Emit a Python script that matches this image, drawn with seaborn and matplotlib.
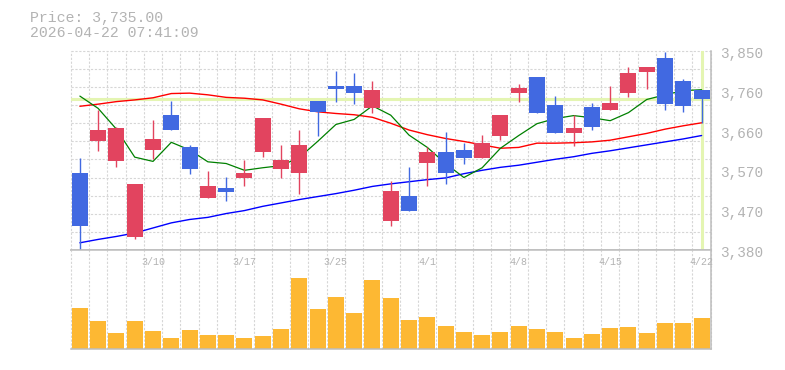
import matplotlib
matplotlib.use("Agg")
import matplotlib.pyplot as plt
import matplotlib.transforms as mtransforms
import numpy as np
import pandas as pd
import seaborn as sns

# daily candles, 2026-03-04 .. 2026-04-22
dates = ["3/4", "3/5", "3/6", "3/9", "3/10", "3/11", "3/12", "3/13", "3/16", "3/17",
         "3/18", "3/19", "3/23", "3/24", "3/25", "3/26", "3/27", "3/30", "3/31", "4/1",
         "4/2", "4/3", "4/6", "4/7", "4/8", "4/9", "4/10", "4/13", "4/14", "4/15",
         "4/16", "4/17", "4/20", "4/21", "4/22"]
opens = [3562, 3636, 3591, 3410, 3615, 3698, 3623, 3502, 3527, 3551,
         3610, 3570, 3561, 3731, 3767, 3767, 3716, 3449, 3508, 3586,
         3611, 3616, 3596, 3650, 3751, 3788, 3722, 3657, 3717, 3711,
         3751, 3800, 3832, 3778, 3757]
highs = [3597, 3710, 3670, 3536, 3687, 3731, 3627, 3567, 3553, 3593,
         3691, 3628, 3663, 3731, 3802, 3797, 3778, 3543, 3576, 3623,
         3658, 3633, 3651, 3698, 3771, 3788, 3743, 3698, 3727, 3767,
         3812, 3811, 3846, 3783, 3757]
lows = [3380, 3614, 3575, 3406, 3595, 3662, 3560, 3502, 3495, 3530,
        3600, 3551, 3511, 3650, 3729, 3725, 3702, 3436, 3471, 3530,
        3535, 3582, 3596, 3640, 3730, 3702, 3657, 3626, 3662, 3711,
        3741, 3760, 3710, 3706, 3679]
closes = [3436, 3663, 3668, 3536, 3642, 3662, 3570, 3532, 3516, 3562,
          3691, 3593, 3628, 3706, 3760, 3751, 3757, 3518, 3471, 3611,
          3561, 3596, 3633, 3698, 3762, 3702, 3657, 3668, 3671, 3727,
          3797, 3811, 3725, 3720, 3735]
ma5 = [3743, 3714, 3665, 3599, 3589, 3634, 3616, 3588, 3584, 3568,
       3574, 3579, 3598, 3636, 3676, 3688, 3720, 3698, 3651, 3622,
       3584, 3551, 3574, 3620, 3650, 3678, 3690, 3697, 3692, 3685,
       3704, 3735, 3746, 3756, 3758]
ma25 = [3719, 3724, 3730, 3734, 3739, 3749, 3750, 3746, 3740, 3738,
        3734, 3724, 3713, 3706, 3702, 3699, 3693, 3679, 3663, 3652,
        3643, 3636, 3628, 3620, 3622, 3632, 3632, 3633, 3635, 3639,
        3647, 3655, 3665, 3673, 3680]
ma75 = [3397, 3405, 3412, 3420, 3432, 3444, 3452, 3457, 3466, 3473,
        3483, 3491, 3499, 3506, 3513, 3521, 3530, 3536, 3541, 3546,
        3550, 3560, 3568, 3575, 3580, 3587, 3594, 3600, 3608, 3614,
        3621, 3628, 3635, 3642, 3650]
volume = [407, 277, 157, 277, 177, 107, 187, 137, 137, 107,
          127, 197, 707, 397, 517, 357, 687, 507, 287, 317,
          227, 167, 137, 167, 227, 197, 167, 107, 147, 207,
          217, 157, 257, 257, 307]
price_now = 3735.00
stamp = "2026-04-22 07:41:09"
ytick_labels = ["3,380", "3,470", "3,570", "3,660", "3,760", "3,850"]

UP, DOWN = "#e2445f", "#4169e1"
GRID, FRAME, TXT = "#d6d6d6", "#bdbdbd", "#b3b3b3"
LIME = "#e4f5b2"
MONO = "Liberation Mono"

sns.set_style("white")

df = pd.DataFrame({"date": dates, "open": opens, "high": highs, "low": lows,
                   "close": closes, "ma5": ma5, "ma25": ma25, "ma75": ma75,
                   "volume": volume})
df["i"] = range(len(df))
df["color"] = np.where(df["close"] >= df["open"], UP, DOWN)

fig = plt.figure(figsize=(7.85, 3.70), dpi=100)
ax = fig.add_axes([0.0901, 0.3243, 0.8153, 0.5386])
axv = fig.add_axes([0.0901, 0.0576, 0.8153, 0.2667])

lo, hi = 3380, 3850
n = len(df)
for a in (ax, axv):
    a.set_xlim(-0.5, n - 0.5)
    for x in np.arange(-0.5, n, 1.0):
        a.axvline(x, color=GRID, lw=0.8, ls=(0, (2, 1.5)), zorder=0, clip_on=False)
    for s in ("left", "top"):
        a.spines[s].set_visible(False)
    for s in ("right", "bottom"):
        a.spines[s].set_color(FRAME)
        a.spines[s].set_linewidth(1.1)
    a.set_xticks([])
ax.set_ylim(lo, hi)
for y in np.linspace(lo, hi, 12):
    ax.axhline(y, color=GRID, lw=0.8, ls=(0, (2, 1.5)), zorder=0, clip_on=False)
axv.spines["top"].set_visible(True)
axv.spines["top"].set_color(FRAME)
axv.spines["top"].set_linewidth(1.1)

# current price markers
ax.axhline(price_now, color=LIME, lw=2.2, zorder=1)
ax.axvline(n - 1, color=LIME, lw=2.2, zorder=1)

# moving averages
sns.lineplot(data=df, x="i", y="ma75", ax=ax, color="#0000ff", lw=1.0, zorder=2)
sns.lineplot(data=df, x="i", y="ma25", ax=ax, color="#ff0000", lw=1.0, zorder=2)
sns.lineplot(data=df, x="i", y="ma5", ax=ax, color="#008000", lw=0.9, zorder=2)

# candles
ax.vlines(df["i"], df["low"], df["high"], colors=df["color"], lw=1.0, zorder=3)
body = (df["close"] - df["open"]).abs().clip(lower=2)
ax.bar(df["i"], body, bottom=df[["open", "close"]].min(axis=1), width=0.875,
       color=df["color"], linewidth=0, zorder=4)

ax.set_xlabel("")
ax.set_ylabel("")
ax.yaxis.tick_right()
ax.set_yticks(np.linspace(lo, hi, 6), ytick_labels)
ax.tick_params(axis="y", length=0, pad=6.5, labelsize=10.4, labelcolor=TXT)
shift = mtransforms.ScaledTranslation(0, -1.2 / 72, fig.dpi_scale_trans)
for lab in ax.get_yticklabels():
    lab.set_fontfamily(MONO)
    lab.set_transform(lab.get_transform() + shift)

# volume
sns.barplot(data=df, x="i", y="volume", ax=axv, color="#fdb833",
            saturation=1, width=0.875, linewidth=0, zorder=2)
axv.set_xlim(-0.5, n - 0.5)
axv.set_ylim(0, 987)
axv.set_yticks([])
axv.set_xticks([])
axv.set_xlabel("")
axv.set_ylabel("")

# date labels every 5 sessions, sitting inside the volume panel
tr = mtransforms.blended_transform_factory(axv.transData, axv.transAxes)
for i in range(4, n, 5):
    axv.text(i, 0.878, dates[i], transform=tr, ha="center", va="center",
             fontsize=7.2, color=TXT, family=MONO)

fig.text(30 / 785, 1 - 18 / 370, f"Price: {price_now:,.2f}", ha="left", va="center",
         fontsize=10.7, color=TXT, family=MONO)
fig.text(30 / 785, 1 - 33 / 370, stamp, ha="left", va="center",
         fontsize=10.7, color=TXT, family=MONO)

fig.savefig("out.png", dpi=100)
